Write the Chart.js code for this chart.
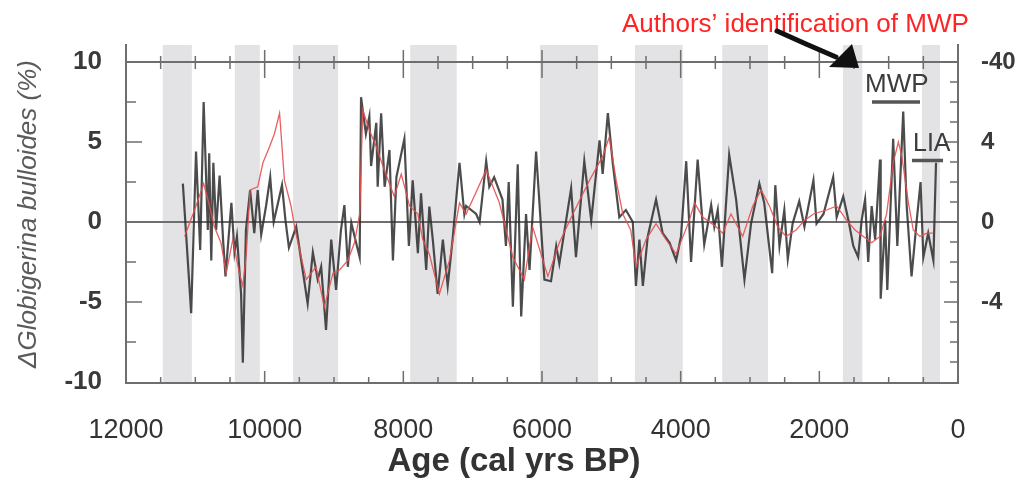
<!DOCTYPE html>
<html>
<head>
  <title>Globigerina bulloides</title>
  <script src="https://cdn.jsdelivr.net/npm/chart.js"></script>
  <style>
    body { margin: 0; background: #fff; }
  </style>
</head>
<body>
  <canvas id="grafico" width="1023" height="483"></canvas>
  <script>
    // serie negra (datos originales)
    var edadNegra = [11180, 11060, 10990, 10930, 10880, 10820, 10800, 10770, 10740, 10700, 10650, 10600, 10565, 10480, 10435, 10400, 10340, 10315, 10270, 10210, 10150, 10100, 10050, 9980, 9920, 9870, 9750, 9700, 9650, 9545, 9380, 9305, 9235, 9185, 9115, 9040, 8970, 8900, 8850, 8800, 8750, 8630, 8610, 8540, 8490, 8465, 8390, 8370, 8320, 8270, 8200, 8150, 8100, 7985, 7920, 7865, 7790, 7745, 7670, 7625, 7575, 7505, 7430, 7360, 7290, 7190, 7120, 7095, 6950, 6900, 6805, 6760, 6690, 6570, 6520, 6480, 6420, 6350, 6300, 6230, 6180, 6085, 5965, 5870, 5795, 5750, 5580, 5510, 5390, 5290, 5170, 5125, 5050, 4980, 4885, 4790, 4690, 4645, 4595, 4545, 4475, 4355, 4260, 4160, 4065, 3995, 3920, 3850, 3755, 3660, 3560, 3515, 3465, 3405, 3300, 3200, 3080, 2985, 2865, 2795, 2680, 2635, 2575, 2505, 2455, 2385, 2290, 2215, 2085, 2040, 1940, 1800, 1750, 1655, 1580, 1510, 1440, 1390, 1340, 1295, 1245, 1195, 1125, 1115, 1050, 1020, 935, 875, 790, 740, 670, 595, 540, 500, 430, 355, 317];
    var valorNegra = [2.4, -5.7, 4.4, -1.75, 7.5, -0.5, 4.3, -2.4, 3.7, -0.5, 2.9, -1.1, -3.4, 1.2, -1.9, -0.9, -4.5, -8.8, -0.5, 2.0, -0.7, 2.0, -0.8, 1.0, 2.8, 0, 2.3, 0.1, -1.6, -0.3, -5.1, -1.9, -3.6, -2.8, -6.75, -1.1, -4.25, -0.5, 1.06, -2.8, -0.06, -2.2, 7.8, 5.5, 6.6, 3.5, 6.2, 2.2, 6.8, 2.2, 4.5, -2.4, 2.8, 5.2, -1.5, 2.6, -1.95, 1.8, -3, 0.96, -1.1, -4.5, -1.1, -4, -1.1, 3.7, 0.5, 1.0, 0.5, 0, 3.8, 2.2, 2.8, 1.4, -1.5, 2.5, -5.3, 3.6, -5.9, 0.5, -3, 4.4, -3.6, -3.7, -1.5, -2.6, 2.1, -2.2, 3.8, 0.1, 5.1, 3.0, 6.8, 3.7, 0.3, 0.75, 0, -4.0, -1.1, -4.0, -0.9, 1.4, -0.7, -1.3, -2.4, -0.9, 3.8, -2.5, 3.9, -1.4, 1.06, -0.3, 0.75, -2.8, 4.2, 1.4, -3.6, -0.1, 2.4, 1.2, -3.2, 2.3, -1.5, 0.75, -2.3, -0.1, 1.3, -0.3, 2.6, -0.1, 0.5, 2.8, 0.3, 1.6, 0.1, -1.5, -2.2, 0.1, 1.4, -2.5, 1.0, -1.1, 3.9, -4.8, 0.1, -4.25, 5.2, -1.5, 6.9, 1.0, -3.4, 0.1, 2.5, -2.2, -0.7, -2.4, 3.7];

    // serie roja (suavizada)
    var edadRoja = [11155, 11085, 10990, 10880, 10795, 10725, 10630, 10555, 10460, 10365, 10315, 10265, 10210, 10100, 10025, 9930, 9860, 9785, 9715, 9620, 9560, 9400, 9260, 9140, 9015, 8920, 8800, 8705, 8630, 8585, 8490, 8390, 8275, 8130, 8030, 7910, 7790, 7720, 7625, 7480, 7335, 7190, 7095, 6805, 6615, 6420, 6255, 6135, 5915, 5750, 5555, 5315, 5125, 5030, 4930, 4835, 4720, 4645, 4500, 4355, 4210, 4065, 3875, 3800, 3680, 3490, 3395, 3275, 3105, 2960, 2840, 2720, 2600, 2480, 2335, 2215, 2085, 1895, 1750, 1605, 1485, 1365, 1245, 1125, 1030, 935, 860, 810, 715, 645, 550, 450, 355];
    var valorRoja = [-0.9, -0.1, 1.0, 2.4, 1.0, -0.3, -1.3, -3.2, -1.1, -3.2, -4.0, -2.0, 2.0, 2.2, 3.7, 4.7, 5.5, 6.8, 2.6, 1.0, -0.5, -3.6, -2.8, -5.3, -3.2, -3.0, -2.4, -1.3, 0.5, 7.0, 5.75, 4.7, 3.25, 1.6, 3.0, 1.0, 0.5, -1.1, -2.0, -4.5, -2.4, 1.2, 0.5, 3.25, 1.2, -2.2, -3.6, -0.3, -3.4, -1.3, 0.5, 2.6, 4.1, 5.3, 2.6, 0.5, -0.5, -2.8, -1.1, -0.1, -1.1, -2.0, 0.1, 1.2, 0.3, -0.3, -0.7, 0.5, -0.9, 1.0, 2.0, 1.0, -0.3, -0.9, -0.5, 0.1, 0.5, 0.75, 1.0, 0.1, -0.5, -0.9, -1.3, -0.9, 0.5, 3.7, 5.0, 4.1, 1.2, -0.5, -0.9, -0.7, -0.7];

    // bandas grises (periodos frios), en anos BP
    var bandaInicio = [11470, 10430, 9590, 7900, 6030, 4660, 3400, 1660, 520];
    var bandaFin = [11050, 10070, 8940, 7230, 5190, 3970, 2740, 1380, 260];

    // etiquetas de los ejes
    var ticksIzq = [-10, -5, 0, 5, 10];
    var ticksDerValores = [8, 4, 0, -4];
    var ticksDerTextos = ['-40', '4', '0', '-4'];

    var fuente = '"Liberation Sans", Arial, sans-serif';
    var gris = '#6e6e6e';

    var decoracion = {
      id: 'decoracion',
      beforeDraw: function(chart) {
        var ctx = chart.ctx, a = chart.chartArea, x = chart.scales.x;
        ctx.save();
        ctx.fillStyle = '#e3e3e5';
        for (var i = 0; i < bandaInicio.length; i++) {
          var x1 = x.getPixelForValue(bandaInicio[i]);
          var x2 = x.getPixelForValue(bandaFin[i]);
          ctx.fillRect(Math.min(x1, x2), a.top, Math.abs(x2 - x1), a.bottom - a.top);
        }
        ctx.restore();
      },
      beforeDatasetsDraw: function(chart) {
        var ctx = chart.ctx, a = chart.chartArea;
        var x = chart.scales.x, y = chart.scales.y, y2 = chart.scales.y2;
        var y10 = y.getPixelForValue(10), y0 = y.getPixelForValue(0);
        ctx.save();
        ctx.strokeStyle = gris;
        ctx.lineWidth = 2;
        ctx.beginPath();
        ctx.moveTo(a.left, y10); ctx.lineTo(a.right, y10);
        ctx.moveTo(a.left, y0); ctx.lineTo(a.right, y0);
        ctx.stroke();

        ctx.lineWidth = 1.5;
        ctx.beginPath();
        for (var v = 500; v < 12000; v += 500) {
          var px = x.getPixelForValue(v);
          var mayor = v % 2000 === 0;
          ctx.moveTo(px, y10 - (mayor ? 12 : 6));
          ctx.lineTo(px, y10 + (mayor ? 16 : 7));
          ctx.moveTo(px, a.bottom);
          ctx.lineTo(px, a.bottom - (mayor ? 12 : 6));
        }
        for (var w = -7.5; w <= 7.5; w += 2.5) {
          if (w === 0) continue;
          var py = y.getPixelForValue(w);
          ctx.moveTo(a.left, py);
          ctx.lineTo(a.left + (w % 5 === 0 ? 16 : 10), py);
        }
        for (var k = -7; k <= 8; k++) {
          var py2 = y2.getPixelForValue(k);
          ctx.moveTo(a.right, py2);
          ctx.lineTo(a.right - (k % 4 === 0 ? 14 : 8), py2);
        }
        ctx.stroke();
        ctx.restore();
      },
      afterDraw: function(chart) {
        var ctx = chart.ctx, x = chart.scales.x, y = chart.scales.y;
        ctx.save();
        ctx.textAlign = 'left';
        ctx.textBaseline = 'alphabetic';

        // nota en rojo
        ctx.fillStyle = '#ff2424';
        ctx.font = '26px ' + fuente;
        ctx.fillText('Authors\u2019 identification of MWP', 622, 32, 353);

        // flecha
        ctx.strokeStyle = '#111';
        ctx.fillStyle = '#111';
        ctx.lineWidth = 5;
        ctx.lineCap = 'round';
        ctx.beginPath();
        ctx.moveTo(777, 31);
        ctx.lineTo(806, 44);
        ctx.lineTo(836, 57);
        ctx.stroke();
        ctx.beginPath();
        ctx.moveTo(829, 67);
        ctx.lineTo(859, 68);
        ctx.lineTo(852, 44);
        ctx.closePath();
        ctx.fill();

        // MWP y LIA
        ctx.fillStyle = '#3c3c3c';
        ctx.font = '26px ' + fuente;
        ctx.fillText('MWP', 865, 92, 67);
        ctx.font = '25px ' + fuente;
        ctx.fillText('LIA', 913, 151, 39);
        ctx.strokeStyle = '#555';
        ctx.lineWidth = 3.5;
        ctx.lineCap = 'butt';
        ctx.beginPath();
        ctx.moveTo(x.getPixelForValue(1240), y.getPixelForValue(7.5));
        ctx.lineTo(x.getPixelForValue(548), y.getPixelForValue(7.5));
        ctx.moveTo(x.getPixelForValue(663), y.getPixelForValue(3.85));
        ctx.lineTo(x.getPixelForValue(216), y.getPixelForValue(3.85));
        ctx.stroke();

        // titulo eje x
        ctx.fillStyle = '#333';
        ctx.font = 'bold 33px ' + fuente;
        ctx.textAlign = 'center';
        ctx.fillText('Age (cal yrs BP)', 514, 471, 254);
        ctx.restore();
      }
    };

    function puntos(edades, valores) {
      var datos = [];
      for (var i = 0; i < edades.length; i++) {
        datos.push({ x: edades[i], y: valores[i] });
      }
      return datos;
    }

    var ctx = document.getElementById('grafico').getContext('2d');
    new Chart(ctx, {
      type: 'line',
      data: {
        datasets: [
          {
            label: 'suavizado',
            data: puntos(edadRoja, valorRoja),
            borderColor: 'rgba(228, 80, 80, 0.9)',
            borderWidth: 1.3,
            pointRadius: 0,
            tension: 0,
            fill: false
          },
          {
            label: 'Globigerina bulloides',
            data: puntos(edadNegra, valorNegra),
            borderColor: 'rgba(45, 45, 45, 0.85)',
            borderWidth: 2.2,
            pointRadius: 0,
            tension: 0,
            fill: false
          }
        ]
      },
      options: {
        responsive: false,
        animation: false,
        layout: { padding: { top: 45, left: 0, right: 0, bottom: 0 } },
        plugins: {
          legend: { display: false },
          tooltip: { enabled: false }
        },
        scales: {
          x: {
            type: 'linear',
            reverse: true,
            min: 0,
            max: 12000,
            position: 'bottom',
            border: { color: gris, width: 2 },
            grid: { display: false, drawTicks: false },
            ticks: {
              stepSize: 2000,
              autoSkip: false,
              maxRotation: 0,
              padding: 31,
              color: '#333',
              font: { family: fuente, size: 27 },
              callback: function(v) { return String(v); }
            },
            afterFit: function(s) { s.height = 100; }
          },
          y: {
            min: -10.0625,
            max: 11.0625,
            position: 'left',
            afterBuildTicks: function(s) {
              s.ticks = ticksIzq.map(function(v) { return { value: v }; });
            },
            border: { color: gris, width: 2 },
            grid: { display: false, drawTicks: false },
            ticks: {
              padding: 24,
              color: '#3a3a3a',
              font: { family: fuente, size: 26, weight: 'bold' }
            },
            title: {
              display: true,
              text: '\u0394Globigerina bulloides (%)',
              color: '#5a5a5a',
              font: { family: fuente, size: 26, style: 'italic' },
              padding: { top: 13, bottom: 0 }
            },
            afterFit: function(s) { s.width = 126; }
          },
          y2: {
            min: -8.05,
            max: 8.85,
            position: 'right',
            afterBuildTicks: function(s) {
              s.ticks = ticksDerValores.map(function(v) { return { value: v }; });
            },
            border: { color: gris, width: 2 },
            grid: { display: false, drawTicks: false },
            ticks: {
              padding: 23,
              color: '#3a3a3a',
              font: { family: fuente, size: 24, weight: 'bold' },
              callback: function(v) {
                var i = ticksDerValores.indexOf(v);
                return i >= 0 ? ticksDerTextos[i] : '';
              }
            },
            afterFit: function(s) { s.width = 65; }
          }
        }
      },
      plugins: [decoracion]
    });
  </script>
</body>
</html>
